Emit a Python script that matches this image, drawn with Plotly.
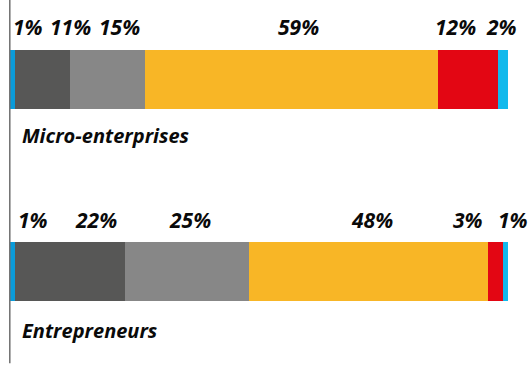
import plotly.graph_objects as go

categories = ["Micro-enterprises", "Entrepreneurs"]
micro = [1, 11, 15, 59, 12, 2]
entrepreneurs = [1, 22, 25, 48, 3, 1]
seg_colors = ["#0a9bd9", "#575756", "#878787", "#f8b626", "#e30613", "#12b9ec"]

# label centres along the 0-100 axis (placed to avoid overlaps on thin segments)
micro_label_x = [3.5, 12, 22, 58, 89.5, 98.7]
entre_label_x = [4.5, 17.3, 36.2, 72.7, 92, 101]

ypos = {"Micro-enterprises": 1, "Entrepreneurs": 0}
values = {"Micro-enterprises": micro, "Entrepreneurs": entrepreneurs}
label_x = {"Micro-enterprises": micro_label_x, "Entrepreneurs": entre_label_x}

fig = go.Figure()
for i, col in enumerate(seg_colors):
    fig.add_trace(go.Bar(
        x=[values[c][i] for c in categories],
        y=[ypos[c] for c in categories],
        orientation="h",
        marker=dict(color=col, line=dict(width=0)),
        width=0.307,
        showlegend=False,
        hoverinfo="skip",
    ))

lab_font = dict(family="Open Sans", size=21, color="#0a0a0a", weight="bold", style="italic")
annotations = []
for c in categories:
    for v, lx in zip(values[c], label_x[c]):
        annotations.append(dict(
            x=lx, y=ypos[c], xref="x", yref="y", text=f"{v}%",
            showarrow=False, yshift=52 if c == "Micro-enterprises" else 51,
            font=lab_font, xanchor="center", yanchor="middle",
        ))
    annotations.append(dict(
        x=2.0, y=ypos[c], xref="x", yref="y", text=c,
        showarrow=False, yshift=-56 if c == "Micro-enterprises" else -59,
        font=dict(family="Open Sans", size=20, color="#0a0a0a", weight="bold", style="italic"),
        xanchor="left", yanchor="middle",
    ))

fig.update_layout(
    width=530, height=365,
    margin=dict(l=0, r=0, t=0, b=0),
    paper_bgcolor="white", plot_bgcolor="white",
    barmode="stack", bargap=0,
    xaxis=dict(range=[-2.07, 104.42], visible=False, fixedrange=True),
    yaxis=dict(range=[-0.487, 1.414], visible=False, fixedrange=True),
    annotations=annotations,
    shapes=[dict(type="line", xref="x", yref="paper", x0=-0.1, x1=-0.1, y0=0.005, y1=1,
                 line=dict(color="#6f6f6f", width=1.5))],
)

fig.write_html("out.html")
